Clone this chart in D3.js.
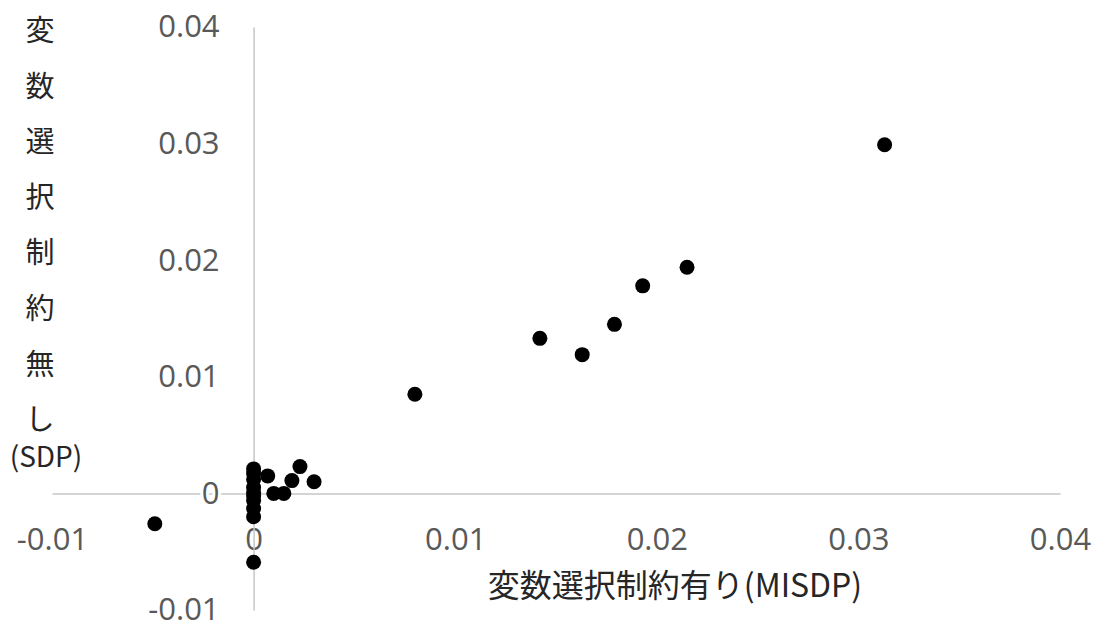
<!DOCTYPE html>
<html lang="ja">

<head>
    <meta charset="UTF-8">
    <script src="https://cdnjs.cloudflare.com/ajax/libs/d3/7.8.5/d3.min.js"></script>
    <title>変数選択制約有り vs 無し</title>
    <style>
        body { margin: 0; background: #ffffff; }
        svg { display: block; }
        .tick text { font-family: "Open Sans", sans-serif; font-size: 31px; fill: #595959;
                     paint-order: stroke; stroke: #ffffff; stroke-width: 6px; stroke-linejoin: round; }
        .domain { stroke: #c6c6c6; stroke-width: 1.5px; }
        .title { font-family: "Noto Sans CJK JP", sans-serif; fill: #262626; }
    </style>
</head>

<body>
    <svg width="1097" height="623"></svg>
    <script>
        // MISDP (x) vs SDP (y)
        var misdp = [0.0313, 0.0215, 0.0193, 0.0179, 0.0163, 0.0142, 0.0080,
                     0.0030, 0.0023, 0.0019, 0.0015, 0.0010, 0.0007, -0.0049,
                     0, 0, 0, 0, 0, 0, 0, 0, 0, 0];
        var sdp = [0.0299, 0.0194, 0.0178, 0.0145, 0.0119, 0.0133, 0.0085,
                   0.0010, 0.0023, 0.0011, 0.0000, 0.0000, 0.0015, -0.0026,
                   0.0021, 0.0017, 0.0012, 0.0005, 0.0001, -0.0002, -0.0006, -0.0013, -0.0020, -0.0059];
        var xTicks = [-0.01, 0, 0.01, 0.02, 0.03, 0.04];
        var yTicks = [-0.01, 0, 0.01, 0.02, 0.03, 0.04];
        var xTickLabels = ["-0.01", "0", "0.01", "0.02", "0.03", "0.04"];
        var yTickLabels = ["-0.01", "0", "0.01", "0.02", "0.03", "0.04"];
        var xTitle = "変数選択制約有り(MISDP)";
        var yTitleLines = ["変", "数", "選", "択", "制", "約", "無", "し", "(SDP)"];

        var svg = d3.select("svg");

        var x = d3.scaleLinear().domain([-0.01, 0.04]).range([52, 1060]);
        var y = d3.scaleLinear().domain([-0.01, 0.04]).range([610, 27]);

        // horizontal axis crosses at y = 0, labels sit below it
        svg.append("g")
            .attr("transform", "translate(0," + y(0) + ")")
            .call(d3.axisBottom(x)
                .tickValues(xTicks)
                .tickSize(0)
                .tickPadding(35)
                .tickFormat((d, i) => xTickLabels[i]));

        // vertical axis crosses at x = 0, labels off to the left
        svg.append("g")
            .attr("transform", "translate(" + x(0) + ",0)")
            .call(d3.axisLeft(y)
                .tickValues(yTicks)
                .tickSize(0)
                .tickPadding(34)
                .tickFormat((d, i) => yTickLabels[i]));

        svg.selectAll("circle.pt")
            .data(misdp.map((d, i) => [d, sdp[i]]))
            .enter()
            .append("circle")
            .attr("class", "pt")
            .attr("cx", d => x(d[0]))
            .attr("cy", d => y(d[1]))
            .attr("r", 7.5)
            .style("fill", "#000000");

        svg.append("text")
            .attr("class", "title")
            .attr("x", 675)
            .attr("y", 597)
            .attr("text-anchor", "middle")
            .style("font-size", "32px")
            .text(xTitle);

        // y title is wrapped one character per line
        svg.selectAll("text.ytitle")
            .data(yTitleLines)
            .enter()
            .append("text")
            .attr("class", "title ytitle")
            .attr("x", (d, i) => i == yTitleLines.length - 1 ? 46 : 40)
            .attr("y", (d, i) => i == yTitleLines.length - 1 ? 455 : 28 + i * 55.6)
            .attr("text-anchor", "middle")
            .attr("dominant-baseline", "central")
            .style("font-size", (d, i) => i == yTitleLines.length - 1 ? "28px" : "29px")
            .text(d => d);
    </script>
</body>

</html>
